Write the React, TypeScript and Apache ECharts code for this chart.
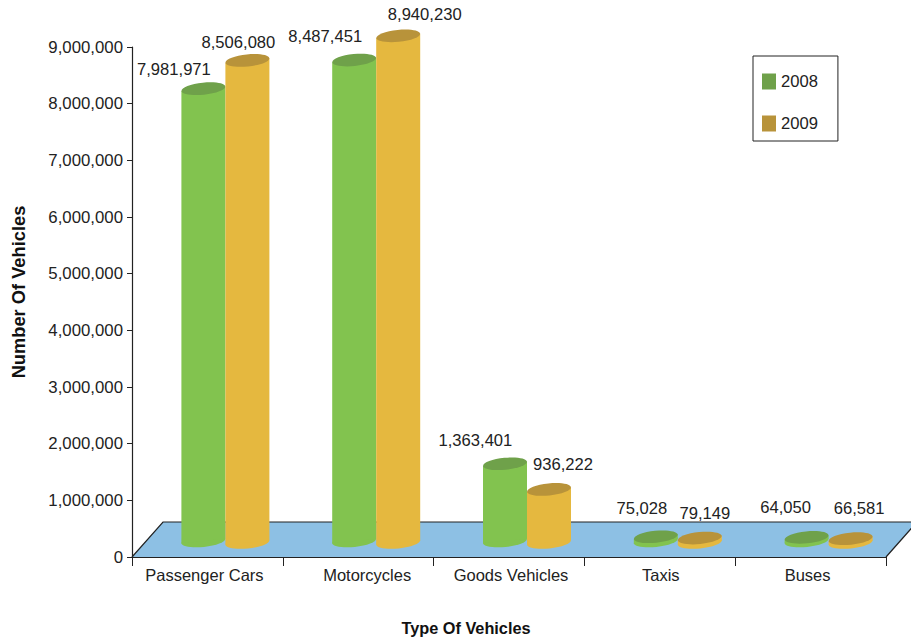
import React, { useEffect, useRef } from "react";
import * as echarts from "echarts";

const categories = ["Passenger Cars", "Motorcycles", "Goods Vehicles", "Taxis", "Buses"];
const values2008 = [7981971, 8487451, 1363401, 75028, 64050];
const values2009 = [8506080, 8940230, 936222, 79149, 66581];

// Cylinder drawing parameters (pixels)
const RX = 22;
const RY = 6;
const TILT = 0.1;
const DEPTH_X = 31;
const DEPTH_Y = 35;
const FONT = "'Liberation Sans', Arial, sans-serif";
const TEXT = "#222222";

// Hand placement of each value label, relative to the top of its cylinder
const offsets2008 = [[-29.5, -18.7], [-29, -24], [-29.6, -23.7], [-14, -28.7], [-21, -29.4]];
const offsets2009 = [[-9, -17.5], [26.5, -20.9], [14, -24.5], [5, -25], [8.5, -30.7]];

// Horizontal nudge of each category label away from the band centre
const labelShift = [-3, 9, 2, 1, -3];

const fmt = (v: number) => v.toLocaleString("en-US");

function cylinder(body: string, top: string, side: number, lift: number, offsets: number[][]) {
  return (params: any, api: any) => {
    const idx = api.value(0);
    const val = api.value(1);
    const [bx, by] = api.coord([idx, 0]);
    const [, ty] = api.coord([idx, val]);
    const cx = bx + 18 + side * RX;
    const baseY = by - lift;
    const topY = ty - lift;
    const dy = RX * Math.sin(TILT);
    const off = offsets[params.dataIndex];
    return {
      type: "group",
      children: [
        { type: "ellipse", x: cx, y: baseY, rotation: TILT, shape: { cx: 0, cy: 0, rx: RX, ry: RY }, style: { fill: body } },
        {
          type: "polygon",
          shape: {
            points: [
              [cx - RX, topY + dy],
              [cx + RX, topY - dy],
              [cx + RX, baseY - dy],
              [cx - RX, baseY + dy],
            ],
          },
          style: { fill: body },
        },
        { type: "ellipse", x: cx, y: topY, rotation: TILT, shape: { cx: 0, cy: 0, rx: RX, ry: RY }, style: { fill: top } },
        {
          type: "text",
          x: cx + off[0],
          y: topY + off[1],
          style: { text: fmt(val), fill: TEXT, font: `16.6px ${FONT}`, textAlign: "center", textVerticalAlign: "middle" },
        },
      ],
    };
  };
}

// Blue floor plane lying under the cylinders
function floor(params: any) {
  const { x, y, width, height } = params.coordSys;
  const b = y + height;
  const r = x + width;
  const line = { stroke: "#222222", lineWidth: 1.2, fill: "none" };
  return {
    type: "group",
    children: [
      {
        type: "polygon",
        shape: { points: [[x, b], [x + DEPTH_X, b - DEPTH_Y], [r + DEPTH_X, b - DEPTH_Y], [r, b]] },
        style: { fill: "#8DC0E4" },
      },
      {
        type: "polyline",
        shape: { points: [[x, b], [x + DEPTH_X, b - DEPTH_Y], [r + DEPTH_X, b - DEPTH_Y], [r, b]] },
        style: line,
      },
    ],
  };
}

// One rich style per category; padding on one side moves the centred text the other way
const labelRich: Record<string, any> = {};
labelShift.forEach((s, i) => {
  labelRich[`s${i}`] = {
    fontSize: 16.5,
    color: TEXT,
    fontFamily: FONT,
    padding: s >= 0 ? [0, 0, 0, 2 * s] : [0, -2 * s, 0, 0],
  };
});

export default function App() {
  const ref = useRef<HTMLDivElement>(null);
  useEffect(() => {
    const chart = echarts.init(ref.current!, undefined, { renderer: "svg" });
    chart.setOption({
      animation: false,
      backgroundColor: "#ffffff",
      textStyle: { fontFamily: FONT },
      grid: { left: 132, right: 25, top: 47, bottom: 85, outerBoundsMode: "none" },
      graphic: [
        {
          type: "text",
          x: 466,
          y: 628,
          style: { text: "Type Of Vehicles", fill: "#111111", font: `bold 16.3px ${FONT}`, textAlign: "center", textVerticalAlign: "middle" },
        },
        {
          type: "text",
          x: 18,
          y: 292,
          rotation: Math.PI / 2,
          style: { text: "Number Of Vehicles", fill: "#111111", font: `bold 18.3px ${FONT}`, textAlign: "center", textVerticalAlign: "middle" },
        },
      ],
      legend: {
        data: ["2008", "2009"],
        orient: "vertical",
        left: 753,
        top: 56,
        padding: [17, 20, 9, 9],
        itemWidth: 14,
        itemHeight: 16,
        itemGap: 25,
        icon: "rect",
        borderColor: "#222222",
        borderWidth: 1,
        textStyle: { fontSize: 16.6, color: TEXT, fontFamily: FONT },
      },
      xAxis: {
        type: "category",
        data: categories,
        z: 3,
        axisLine: { lineStyle: { color: "#222222", width: 1.2 } },
        axisTick: { show: true, alignWithLabel: false, length: 9, lineStyle: { color: "#222222" } },
        axisLabel: {
          fontSize: 16.5,
          color: TEXT,
          margin: 9,
          interval: 0,
          fontFamily: FONT,
          formatter: (v: string, i: number) => `{s${i}|${v}}`,
          rich: labelRich,
        },
        splitLine: { show: false },
      },
      yAxis: {
        type: "value",
        min: 0,
        max: 9000000,
        interval: 1000000,
        z: 3,
        axisLine: { show: true, lineStyle: { color: "#222222", width: 1.2 } },
        axisTick: { show: true, length: 5, lineStyle: { color: "#222222" } },
        axisLabel: { fontSize: 16.8, color: TEXT, margin: 9, fontFamily: FONT, formatter: (v: number) => fmt(v) },
        splitLine: { show: false },
      },
      series: [
        {
          type: "custom",
          z: 1,
          silent: true,
          data: [[0, 0]],
          encode: { x: 0, y: 1 },
          renderItem: floor,
        },
        {
          type: "custom",
          name: "2008",
          z: 4,
          silent: true,
          itemStyle: { color: "#6FA14A" },
          data: values2008.map((v, i) => [i, v]),
          encode: { x: 0, y: 1 },
          renderItem: cylinder("#82C34F", "#6FA14A", -1, 16, offsets2008),
        },
        {
          type: "custom",
          name: "2009",
          z: 5,
          silent: true,
          itemStyle: { color: "#B8933A" },
          data: values2009.map((v, i) => [i, v]),
          encode: { x: 0, y: 1 },
          renderItem: cylinder("#E5B83F", "#B8933A", 1, 14.5, offsets2009),
        },
      ],
    });
    return () => chart.dispose();
  }, []);
  return <div ref={ref} style={{ position: "fixed", left: 0, top: 0, width: 911, height: 642 }} />;
}
